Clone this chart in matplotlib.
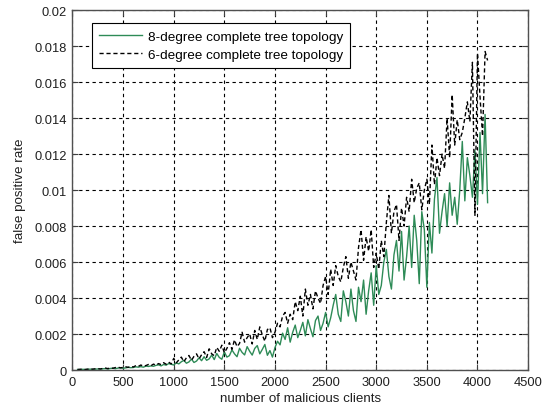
import numpy as np
import matplotlib
matplotlib.use("Agg")
import matplotlib.pyplot as plt

# number of malicious clients (x), step 25
clients = list(range(50, 4101, 25))

# false positive rate, in units of 1e-4
fpr8_e4 = [
    0.3, 0.3, 0.4, 0.3, 0.4, 0.5, 0.4, 0.5, 0.6, 0.5,
    0.7, 0.8, 0.6, 0.9, 1.0, 0.8, 1.1, 1.3, 1.0, 1.2,
    1.5, 1.3, 1.4, 1.8, 1.6, 1.9, 1.6, 2.2, 2.0, 2.3,
    2.1, 2.6, 2.9, 2.3, 3.1, 2.7, 3.6, 3.2, 2.8, 4.0,
    3.4, 4.6, 5.4, 3.8, 4.5, 6.1, 4.2, 5.0, 6.8, 5.2,
    7.4, 5.4, 6.2, 8.3, 5.8, 9.2, 7.0, 6.0, 10.1, 7.2,
    8.0, 11.2, 9.0, 7.4, 12.1, 9.8, 8.4, 13.0, 10.4, 8.3,
    12.0, 13.6, 9.0, 11.5, 14.2, 8.2, 10.8, 7.2, 12.5, 16.0,
    14.0, 20.5, 17.0, 23.5, 15.5, 21.0, 25.0, 18.0, 22.0, 26.5,
    19.0, 28.0, 23.0, 18.5, 27.5, 30.0, 22.0, 26.0, 32.0, 24.0,
    29.0, 36.0, 42.0, 31.0, 27.0, 44.0, 38.0, 30.0, 45.0, 33.0,
    27.0, 46.0, 38.0, 50.0, 31.0, 44.0, 54.0, 36.0, 58.0, 42.0,
    47.0, 60.0, 67.0, 52.0, 45.0, 64.0, 72.0, 55.0, 77.0, 50.0,
    63.0, 80.0, 57.0, 86.0, 72.0, 48.0, 88.0, 78.0, 46.0, 82.0,
    65.0, 95.0, 107.0, 76.0, 88.0, 98.0, 80.0, 104.0, 86.0, 96.0,
    81.0, 100.0, 127.0, 94.0, 118.0, 108.0, 96.0, 122.0, 92.0, 132.0,
    98.0, 142.0, 93.0,
]

fpr6_e4 = [
    0.3, 0.4, 0.5, 0.3, 0.5, 0.6, 0.5, 0.7, 0.8, 0.6,
    0.9, 1.1, 0.8, 1.2, 1.0, 1.4, 1.6, 1.2, 1.5, 1.8,
    1.5, 2.1, 1.7, 2.4, 2.0, 2.8, 2.2, 2.5, 3.1, 2.4,
    3.3, 2.7, 3.6, 3.0, 4.1, 3.2, 4.4, 3.4, 6.5, 4.0,
    5.6, 7.2, 4.6, 6.8, 8.1, 5.4, 7.6, 9.0, 6.2, 8.5,
    10.2, 7.0, 11.8, 9.0, 8.0, 12.6, 10.4, 13.8, 9.6, 12.0,
    15.2, 11.5, 16.8, 13.0, 14.8, 21.0, 15.5, 18.0, 20.0, 14.5,
    22.0, 17.0, 24.0, 19.5, 16.0, 22.5, 23.5, 18.0, 21.0, 26.0,
    24.0, 30.0, 32.0, 26.0, 31.0, 28.0, 38.0, 33.0, 41.0, 30.0,
    45.0, 36.0, 42.0, 34.0, 44.0, 40.0, 37.0, 47.0, 52.0, 42.0,
    56.0, 47.0, 58.0, 52.0, 49.0, 57.0, 63.0, 51.0, 60.0, 55.0,
    50.0, 68.0, 78.0, 61.0, 74.0, 66.0, 78.0, 57.0, 65.0, 56.0,
    72.0, 63.0, 82.0, 97.0, 76.0, 88.0, 92.0, 72.0, 90.0, 80.0,
    96.0, 88.0, 106.0, 93.0, 101.0, 104.0, 89.0, 100.0, 106.0, 92.0,
    125.0, 103.0, 118.0, 108.0, 120.0, 112.0, 140.0, 118.0, 153.0, 125.0,
    139.0, 128.0, 132.0, 140.0, 149.0, 138.0, 171.0, 86.0, 176.0, 152.0,
    130.0, 177.0, 172.0,
]

series_labels = ["8-degree complete tree topology", "6-degree complete tree topology"]
xticks = [0, 500, 1000, 1500, 2000, 2500, 3000, 3500, 4000, 4500]
yticks = [0, 0.002, 0.004, 0.006, 0.008, 0.01, 0.012, 0.014, 0.016, 0.018, 0.02]
ytick_labels = ["0", "0.002", "0.004", "0.006", "0.008", "0.01", "0.012", "0.014", "0.016", "0.018", "0.02"]

UNIT = 1e-4
x = np.array(clients)
y8 = np.array(fpr8_e4) * UNIT
y6 = np.array(fpr6_e4) * UNIT

plt.rcParams['font.family'] = ['Liberation Sans', 'DejaVu Sans']
plt.rcParams['font.size'] = 9.3

fig = plt.figure(figsize=(5.45, 4.10), dpi=100)
ax = fig.add_axes([0.133, 0.095, 0.836, 0.878])

ax.plot(x, y8, color='#2e8b57', lw=1.0, label=series_labels[0])
ax.plot(x, y6, color='black', lw=1.0, ls=(0, (3, 2)), label=series_labels[1])

ax.set_xlim(0, 4500)
ax.set_ylim(0, 0.02)
ax.set_xticks(xticks)
ax.set_yticks(yticks)
ax.set_yticklabels(ytick_labels)
ax.grid(True, color='black', ls=(0, (3, 3)), lw=0.8)
ax.tick_params(direction='in', top=True, right=True, length=4, colors='#404040',
               labelcolor='#202020', pad=4)
for s in ax.spines.values():
    s.set_color('#505050')
    s.set_linewidth(1.0)

ax.set_xlabel("number of malicious clients", color='#202020', labelpad=3, fontsize=9.6)
ax.set_ylabel("false positive rate", color='#202020', labelpad=6, fontsize=9.6)

leg = ax.legend(loc='upper left', bbox_to_anchor=(0.0435, 0.963), borderaxespad=0,
                fancybox=False, edgecolor='black', framealpha=1, handlelength=3.2,
                handletextpad=0.4, labelspacing=0.45, borderpad=0.5, fontsize=9.7)
leg.get_frame().set_linewidth(0.8)

fig.savefig("out.png", dpi=100, facecolor='white')
